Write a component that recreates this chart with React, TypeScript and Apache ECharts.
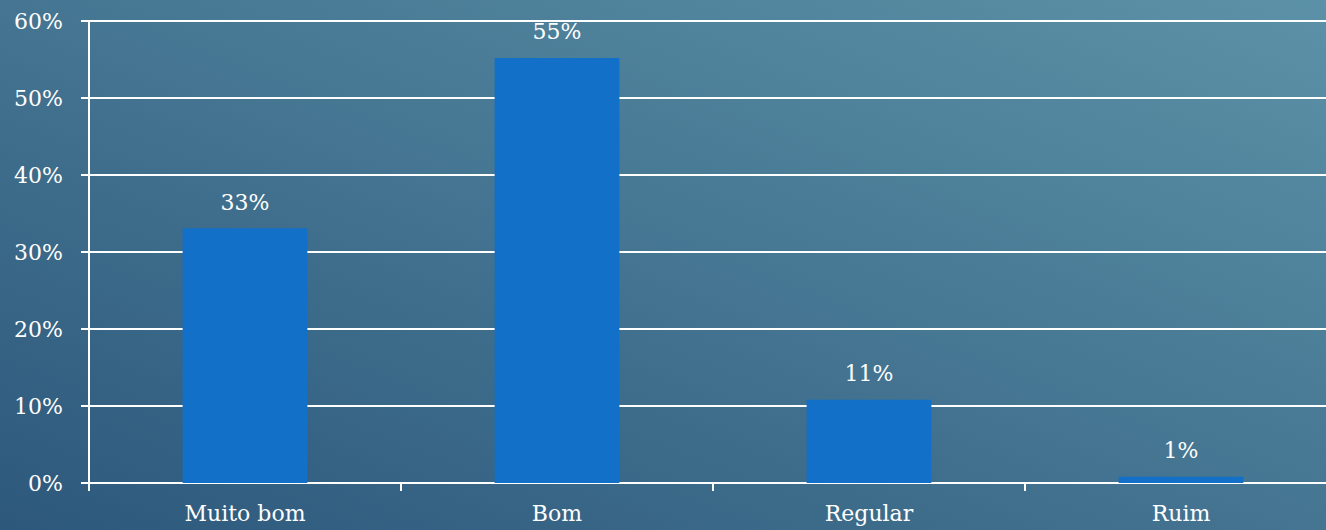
import React, { useEffect, useRef } from "react";
import * as echarts from "echarts";

const categories = ["Muito bom", "Bom", "Regular", "Ruim"];
const values = [33.1, 55.2, 10.8, 0.8];
const yTicks = [0, 10, 20, 30, 40, 50, 60];

export default function App() {
  const ref = useRef<HTMLDivElement>(null);
  useEffect(() => {
    if (!ref.current) return;
    const chart = echarts.init(ref.current, undefined, { renderer: "svg" });
    const font = "'DejaVu Serif', serif";
    chart.setOption({
      animation: false,
      backgroundColor: new echarts.graphic.LinearGradient(0, 1, 1, 0, [
        { offset: 0, color: "#2d587c" },
        { offset: 1, color: "#5c92a7" },
      ]),
      grid: { left: 89, right: 0, top: 21, bottom: 47, containLabel: false },
      xAxis: {
        type: "category",
        data: categories,
        axisLine: { lineStyle: { color: "#ffffff", width: 2 } },
        axisTick: { show: true, length: 8, lineStyle: { color: "#ffffff", width: 2 } },
        axisLabel: { color: "#ffffff", fontSize: 22, fontFamily: font, margin: 19 },
      },
      yAxis: {
        type: "value",
        min: yTicks[0],
        max: yTicks[yTicks.length - 1],
        interval: 10,
        axisLine: { show: true, lineStyle: { color: "#ffffff", width: 2 } },
        axisTick: { show: true, length: 8, lineStyle: { color: "#ffffff", width: 2 } },
        splitLine: { show: true, lineStyle: { color: "#ffffff", width: 2 } },
        axisLabel: {
          color: "#ffffff",
          fontSize: 22,
          fontFamily: font,
          margin: 26,
          formatter: (v: number) => v + "%",
        },
      },
      series: [
        {
          type: "bar",
          data: values,
          barWidth: "40%",
          itemStyle: { color: "#1270c8" },
          label: {
            show: true,
            position: "top",
            distance: 15,
            color: "#ffffff",
            fontSize: 22,
            fontFamily: font,
            formatter: (p: any) => Math.round(p.value) + "%",
          },
        },
      ],
    });
    return () => chart.dispose();
  }, []);
  return (
    <div
      style={{ position: "fixed", left: 0, top: 0, width: 1326, height: 530, overflow: "hidden" }}
    >
      <div ref={ref} style={{ width: 1337, height: 530 }} />
    </div>
  );
}
